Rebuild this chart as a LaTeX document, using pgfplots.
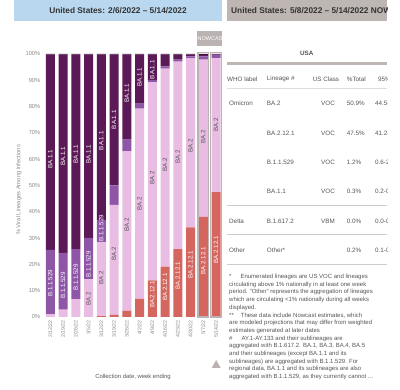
\documentclass[border=0pt]{standalone}
\usepackage{pgfplots}
\pgfplotsset{compat=1.18}
\usepackage{pgfplotstable}
\usepackage{fontspec}
\setmainfont{Liberation Sans}
\definecolor{hdrblue}{HTML}{B9D7EE}
\definecolor{hdrgrey}{HTML}{BDB6B3}
\definecolor{nowgrey}{HTML}{BAB3B1}
\definecolor{cdark}{HTML}{5B1A57}
\definecolor{cmed}{HTML}{8F55A7}
\definecolor{cpink}{HTML}{E9BDE3}
\definecolor{cred}{HTML}{D4665F}
\definecolor{cother}{HTML}{3E1240}
\definecolor{tickgrey}{HTML}{8A8A8A}
\definecolor{txtgrey}{HTML}{555555}
\definecolor{rulegrey}{HTML}{DDDDDD}

\pgfplotstableread{
x red pink purple dark other
0 0 1.1 24.4 74.3 0.2
1 0 2.8 21.6 75.4 0.2
2 0 6.8 19.0 74.0 0.2
3 0 14.4 15.7 69.7 0.2
4 0.3 28.3 8.3 62.9 0.2
5 0.8 41.8 7.4 49.8 0.2
6 2.4 60.6 4.4 32.4 0.2
7 6.9 72.3 1.9 18.7 0.2
8 13.9 75.3 1.0 9.6 0.2
9 19.2 75.2 0.9 4.5 0.2
10 25.8 71.3 0.8 1.9 0.2
11 34.1 64.2 0.8 0.7 0.2
12 38.1 59.8 1.2 0.6 0.3
13 47.5 50.9 1.2 0.3 0.1
}\bars

\pgfplotstableread{
x y label
0 60 BA.1.1
1 61 BA.1.1
2 62 BA.1.1
3 62 BA.1.1
4 67 BA.1.1
5 75 BA.1.1
6 85 BA.1.1
7 91 BA.1.1
8 94 BA.1.1
0 12.8 B.1.1.529
1 12 B.1.1.529
2 15 B.1.1.529
3 20 B.1.1.529
4 33.8 B.1.1.529
8 8.6 BA.2.12.1
9 11.4 BA.2.12.1
10 15.6 BA.2.12.1
11 19.9 BA.2.12.1
12 21.3 BA.2.12.1
13 25.5 BA.2.12.1
}\whitelabels

\pgfplotstableread{
x y label
3 7 BA.2
4 15 BA.2
5 24 BA.2
6 35 BA.2
7 43 BA.2
8 53 BA.2
9 58 BA.2
10 61 BA.2
11 65 BA.2
12 68.6 BA.2
13 73 BA.2
}\darklabels

\begin{document}
\begin{tikzpicture}
\path[use as bounding box] (0,0) rectangle (400pt,-390pt);
% headers
\fill[hdrblue] (14pt,0) rectangle (222pt,-21pt);
\node[font=\fontsize{8.3}{10}\selectfont\bfseries, text=black!80] at (118pt,-10.5pt) {United States: 2/6/2022 – 5/14/2022};
\fill[nowgrey] (197pt,-31pt) rectangle (222pt,-46pt);
\begin{scope}
\clip (197pt,-31pt) rectangle (222pt,-46pt);
\node[anchor=west, inner sep=0pt, font=\fontsize{5.5}{6}\selectfont, text=white] at (197.5pt,-38.5pt) {NOWCAST};
\end{scope}
\fill[nowgrey] (211.7pt,-368pt) -- (220.7pt,-368pt) -- (216.2pt,-360pt) -- cycle;

\begin{axis}[at={(43.9pt,-317pt)}, anchor=south west, scale only axis,
  width=178.5pt, height=263pt, xmin=-0.5, xmax=13.5, ymin=0, ymax=100,
  ybar stacked, bar width=9pt, axis line style={draw=none}, major tick length=0pt,
  xtick={0,...,13},
  xticklabels={2/12/22,2/19/22,2/26/22,3/5/22,3/12/22,3/19/22,3/26/22,4/2/22,4/9/22,4/16/22,4/23/22,4/30/22,5/7/22,5/14/22},
  ytick={0,10,...,100},
  yticklabels={0\%,10\%,20\%,30\%,40\%,50\%,60\%,70\%,80\%,90\%,100\%},
  /pgf/number format/assume math mode=true,
  y tick label style={font=\fontsize{5.8}{6}\selectfont, text=tickgrey},
  x tick label style={rotate=90, anchor=east, font=\fontsize{5.2}{6}\selectfont, text=tickgrey},
  clip=false]
\addplot[fill=cred, draw=none] table[x=x,y=red]{\bars};
\addplot[fill=cpink, draw=none] table[x=x,y=pink]{\bars};
\addplot[fill=cmed, draw=none] table[x=x,y=purple]{\bars};
\addplot[fill=cdark, draw=none] table[x=x,y=dark]{\bars};
\addplot[fill=cother, draw=none] table[x=x,y=other]{\bars};
\end{axis}

\begin{axis}[at={(43.9pt,-317pt)}, anchor=south west, scale only axis,
  width=178.5pt, height=263pt, xmin=-0.5, xmax=13.5, ymin=0, ymax=100,
  hide axis, clip=false]
\addplot[ybar, bar shift=0pt, bar width=10.6pt, draw=nowgrey, line width=1.1pt, fill=none] coordinates {(12,100.5) (13,100.5)};
\addplot[only marks, mark=*, mark size=0pt, mark options={draw=none,fill=none},
  nodes near coords, point meta=explicit symbolic, nodes near coords align={center},
  every node near coord/.append style={rotate=90, anchor=center, inner sep=0pt, font=\fontsize{6.2}{7}\selectfont, text=white}]
  table[x=x,y=y,meta=label]{\whitelabels};
\addplot[only marks, mark=*, mark size=0pt, mark options={draw=none,fill=none},
  nodes near coords, point meta=explicit symbolic, nodes near coords align={center},
  every node near coord/.append style={rotate=90, anchor=center, inner sep=0pt, font=\fontsize{6.2}{7}\selectfont, text=txtgrey}]
  table[x=x,y=y,meta=label]{\darklabels};
\end{axis}

\node[rotate=90, font=\fontsize{5.8}{7}\selectfont, text=tickgrey] at (19pt,-190pt) {\% Viral Lineages Among Infections};
\node[font=\fontsize{5.9}{7}\selectfont, text=txtgrey] at (133pt,-376.7pt) {Collection date, week ending};

% right panel
\begin{scope}
\clip (226pt,1pt) rectangle (387pt,-270pt);
\fill[hdrgrey] (227pt,0) rectangle (387pt,-21pt);
\node[anchor=west, inner sep=0pt, font=\fontsize{8.3}{10}\selectfont\bfseries, text=black!80] at (231pt,-10.5pt) {United States: 5/8/2022 – 5/14/2022 NOWCAST};
\node[font=\fontsize{6.3}{7}\selectfont\bfseries, text=txtgrey] at (306.7pt,-53pt) {USA};
\fill[hdrgrey] (227pt,-62.5pt) rectangle (387pt,-65.5pt);
\begin{scope}[every node/.style={anchor=west, inner sep=0pt, font=\fontsize{6.3}{7}\selectfont, text=txtgrey}]
\node at (227pt,-79pt) {WHO label};
\node at (266.7pt,-79pt) {Lineage \#};
\node at (312.7pt,-79pt) {US Class};
\node at (346.7pt,-79pt) {\%Total};
\node at (378pt,-79pt) {95\%PI};
\draw[rulegrey, line width=0.6pt] (227pt,-88pt) -- (387pt,-88pt);
\node at (229pt,-103pt) {Omicron};
\node at (266.7pt,-103pt) {BA.2};
\node at (321pt,-103pt) {VOC};
\node at (346.7pt,-103pt) {50.9\%};
\node at (375pt,-103pt) {44.5-57.3\%};
\node at (266.7pt,-133pt) {BA.2.12.1};
\node at (321pt,-133pt) {VOC};
\node at (346.7pt,-133pt) {47.5\%};
\node at (375pt,-133pt) {41.2-53.9\%};
\node at (266.7pt,-162pt) {B.1.1.529};
\node at (321pt,-162pt) {VOC};
\node at (346.7pt,-162pt) {1.2\%};
\node at (375pt,-162pt) {0.6-2.0\%};
\node at (266.7pt,-191pt) {BA.1.1};
\node at (321pt,-191pt) {VOC};
\node at (346.7pt,-191pt) {0.3\%};
\node at (375pt,-191pt) {0.2-0.5\%};
\draw[hdrgrey!70, line width=0.8pt] (227pt,-205pt) -- (387pt,-205pt);
\node at (229pt,-221pt) {Delta};
\node at (266.7pt,-221pt) {B.1.617.2};
\node at (321pt,-221pt) {VBM};
\node at (346.7pt,-221pt) {0.0\%};
\node at (375pt,-221pt) {0.0-0.0\%};
\draw[hdrgrey!70, line width=0.8pt] (227pt,-234pt) -- (387pt,-234pt);
\node at (229pt,-250pt) {Other};
\node at (266.7pt,-250pt) {Other*};
\node at (346.7pt,-250pt) {0.2\%};
\node at (375pt,-250pt) {0.1-0.3\%};
\draw[hdrgrey!70, line width=0.8pt] (227pt,-264pt) -- (387pt,-264pt);
\end{scope}
\end{scope}

% footnotes
\begin{scope}[every node/.style={anchor=west, inner sep=0pt, font=\fontsize{6}{7}\selectfont, text=txtgrey}]
\node at (229pt,-277pt) {*\hspace{9pt}Enumerated lineages are US VOC and lineages};
\node at (229pt,-284.7pt) {circulating above 1\% nationally in at least one week};
\node at (229pt,-292.4pt) {period. "Other" represents the aggregation of lineages};
\node at (229pt,-300.1pt) {which are circulating <1\% nationally during all weeks};
\node at (229pt,-307.8pt) {displayed.};
\node at (229pt,-315.5pt) {**\hspace{7pt}These data include Nowcast estimates, which};
\node at (229pt,-323.2pt) {are modeled projections that may differ from weighted};
\node at (229pt,-330.9pt) {estimates generated at later dates};
\node at (229pt,-338.6pt) {\#\hspace{9pt}AY.1-AY.133 and their sublineages are};
\node at (229pt,-346.3pt) {aggregated with B.1.617.2. BA.1, BA.3, BA.4, BA.5};
\node at (229pt,-354pt) {and their sublineages (except BA.1.1 and its};
\node at (229pt,-361.7pt) {sublineages) are aggregated with B.1.1.529. For};
\node at (229pt,-369.4pt) {regional data, BA.1.1 and its sublineages are also};
\node at (229pt,-377.1pt) {aggregated with B.1.1.529, as they currently cannot ...};
\end{scope}
\end{tikzpicture}
\end{document}
